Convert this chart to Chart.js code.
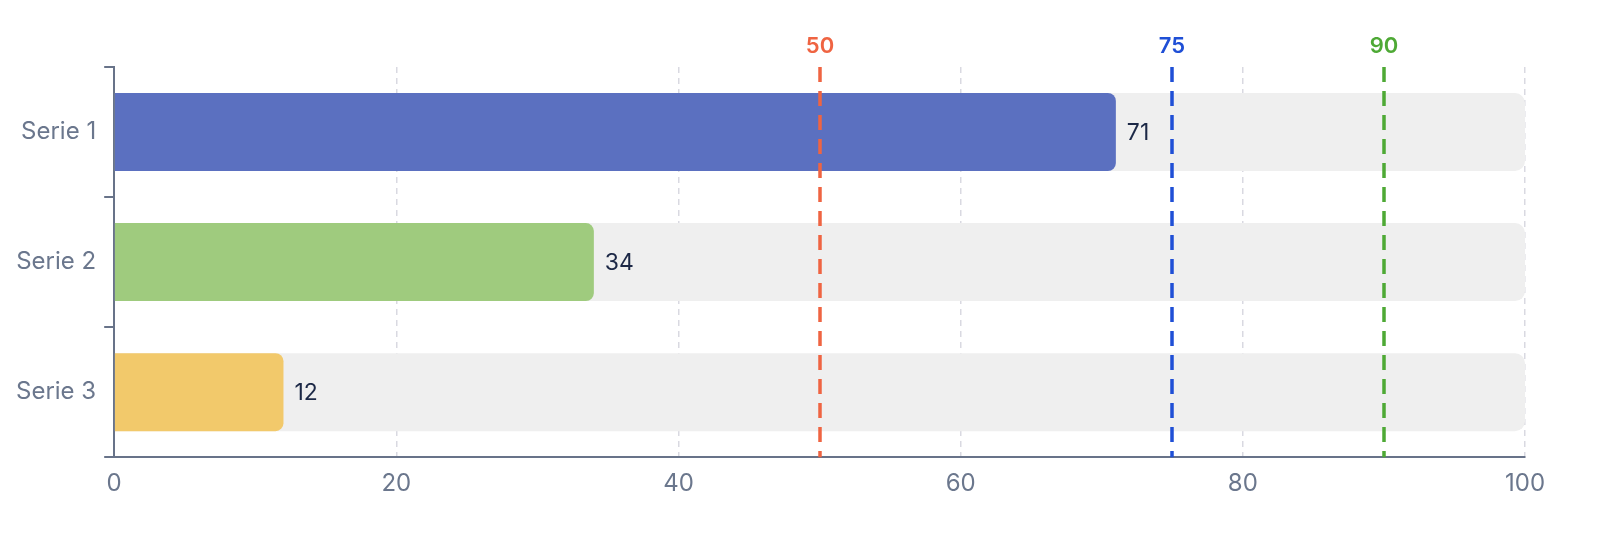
<!DOCTYPE html>
<html lang="en">
<head>
    <meta charset="UTF-8">
    <title>Serie bars</title>
    <script src="https://cdn.jsdelivr.net/npm/chart.js"></script>
    <style>
        html, body { margin: 0; padding: 0; background: #fff; overflow: hidden; }
        #wrap { width: 1612px; height: 544px; position: relative; }
    </style>
</head>
<body>
    <div id="wrap"><canvas id="barChart"></canvas></div>
    <script>
        // data
        var categories = ['Serie 1', 'Serie 2', 'Serie 3'];
        var values = [71, 34, 12];
        var maxValues = [100, 100, 100];
        var barColors = ['#5b70c0', '#9fcb7e', '#f2c96b'];
        var thresholds = [50, 75, 90];
        var thresholdColors = ['#ef6442', '#1f4fd6', '#4ea935'];
        var xTicks = [0, 20, 40, 60, 80, 100];

        var axisColor = '#687389';
        var labelColor = '#6b778d';

        // value text right of each bar
        var valueLabels = {
            id: 'valueLabels',
            afterDatasetsDraw: function(chart) {
                var ctx = chart.ctx;
                var meta = chart.getDatasetMeta(0);
                ctx.save();
                ctx.font = '23px Inter';
                ctx.fillStyle = '#1c2846';
                ctx.textAlign = 'left';
                ctx.textBaseline = 'middle';
                meta.data.forEach(function(bar, i) {
                    ctx.fillText(String(values[i]), bar.x + 11, bar.y + 1);
                });
                ctx.restore();
            }
        };

        // dashed threshold lines with labels on top
        var thresholdLines = {
            id: 'thresholdLines',
            afterDraw: function(chart) {
                var ctx = chart.ctx;
                var area = chart.chartArea;
                var x = chart.scales.x;
                ctx.save();
                thresholds.forEach(function(t, i) {
                    var px = Math.round(x.getPixelForValue(t));
                    ctx.strokeStyle = thresholdColors[i];
                    ctx.lineWidth = 3.5;
                    ctx.setLineDash([15, 9]);
                    ctx.beginPath();
                    ctx.moveTo(px, area.top);
                    ctx.lineTo(px, area.bottom);
                    ctx.stroke();
                    ctx.setLineDash([]);
                    ctx.fillStyle = thresholdColors[i];
                    ctx.font = '600 22px Inter';
                    ctx.textAlign = 'center';
                    ctx.textBaseline = 'middle';
                    ctx.fillText(String(t), px, area.top - 21);
                });
                ctx.restore();
            }
        };

        var ctx = document.getElementById('barChart').getContext('2d');
        var barChart = new Chart(ctx, {
            type: 'bar',
            data: {
                labels: categories,
                datasets: [{
                    data: values,
                    backgroundColor: barColors,
                    borderRadius: 8,
                    borderSkipped: 'start',
                    grouped: false,
                    order: 1,
                    barPercentage: 0.6,
                    categoryPercentage: 1
                }, {
                    data: maxValues,
                    backgroundColor: '#efefef',
                    borderRadius: 10,
                    borderSkipped: 'start',
                    grouped: false,
                    order: 2,
                    barPercentage: 0.6,
                    categoryPercentage: 1
                }]
            },
            options: {
                indexAxis: 'y',
                responsive: true,
                maintainAspectRatio: false,
                animation: false,
                layout: {
                    padding: { top: 67, right: 87, bottom: 34, left: 8 }
                },
                plugins: {
                    legend: { display: false },
                    tooltip: { enabled: false }
                },
                scales: {
                    x: {
                        min: 0,
                        max: 100,
                        afterBuildTicks: function(scale) {
                            scale.ticks = xTicks.map(function(v) { return { value: v }; });
                        },
                        border: { display: true, color: axisColor, width: 2, dash: [6, 5] },
                        grid: {
                            color: '#d9d9e1',
                            lineWidth: 1.5,
                            drawTicks: false
                        },
                        ticks: {
                            color: labelColor,
                            font: { family: 'Inter', size: 24 },
                            padding: 12
                        }
                    },
                    y: {
                        border: { display: true, color: axisColor, width: 2 },
                        grid: {
                            drawOnChartArea: false,
                            drawTicks: true,
                            tickLength: 10,
                            color: axisColor,
                            lineWidth: 2
                        },
                        ticks: {
                            color: labelColor,
                            font: { family: 'Inter', size: 24 },
                            padding: 8
                        }
                    }
                }
            },
            plugins: [valueLabels, thresholdLines]
        });
    </script>
</body>
</html>
